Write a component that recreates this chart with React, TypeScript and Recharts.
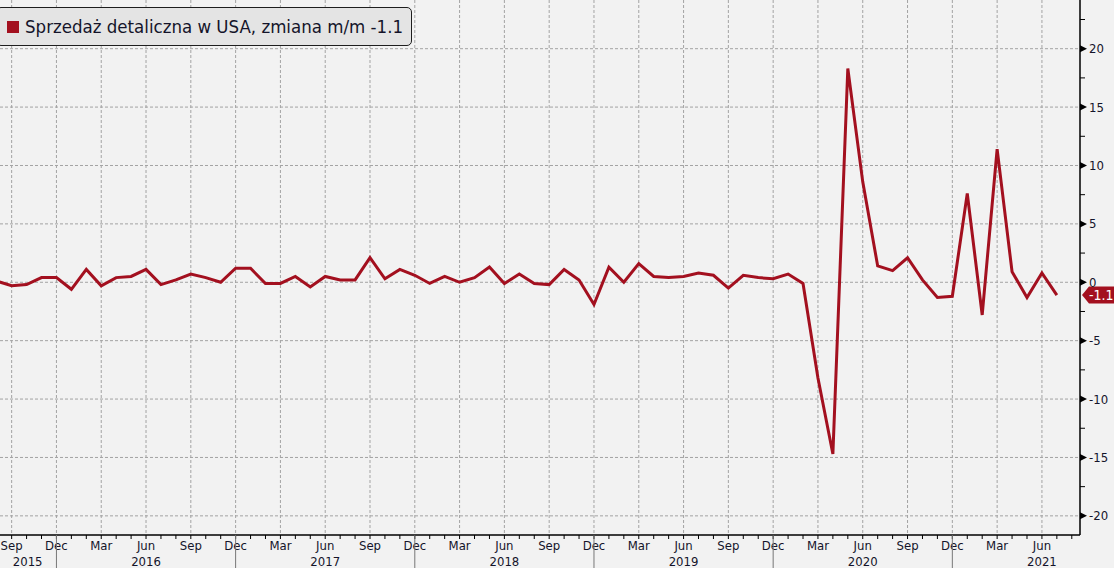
import React from 'react';
import {
  LineChart,
  Line,
  XAxis,
  YAxis,
  CartesianGrid,
  Legend,
  ReferenceDot,
} from 'recharts';

// zmiana m/m w %, od sie 2015 do lip 2021 (indeks 0 = wrz 2015)
const values = [
  0.1, -0.3, -0.2, 0.4, 0.4,
  -0.6, 1.1, -0.3, 0.4, 0.5, 1.1, -0.2, 0.2, 0.7, 0.4, 0.0, 1.2,
  1.2, -0.1, -0.1, 0.5, -0.4, 0.5, 0.2, 0.2, 2.1, 0.3, 1.1, 0.6,
  -0.1, 0.5, 0.0, 0.4, 1.3, -0.1, 0.7, -0.1, -0.2, 1.1, 0.2, -1.9,
  1.3, 0.0, 1.6, 0.5, 0.4, 0.5, 0.8, 0.6, -0.5, 0.6, 0.4, 0.3,
  0.7, -0.1, -8.2, -14.7, 18.3, 8.6, 1.4, 1.0, 2.1, 0.2, -1.3, -1.2,
  7.6, -2.8, 11.4, 0.9, -1.3, 0.8, -1.1,
];
const firstIndex = -1;
const startYear = 2015;
const startMonth = 8; // Sep
const monthNames = ['Jan', 'Feb', 'Mar', 'Apr', 'May', 'Jun', 'Jul', 'Aug', 'Sep', 'Oct', 'Nov', 'Dec'];
const quarterMonths = [2, 5, 8, 11];
const monthTicks = Array.from({ length: 72 }, (_, k) => k);
const quarterTicks = monthTicks.filter((k) => quarterMonths.includes((startMonth + k) % 12) && k < 70);
const yGrid = [-20, -15, -10, -5, 0, 5, 10, 15, 20];
const yTicks = [-20, -17.5, -15, -12.5, -10, -7.5, -5, -2.5, 0, 2.5, 5, 7.5, 10, 12.5, 15, 17.5, 20, 22.5];

const LINE_COLOR = '#a3101f';
const TEXT_COLOR = '#14142a';
const FONT = "'DejaVu Sans Condensed', 'DejaVu Sans', sans-serif";

const data = values.map((v, k) => ({ i: k + firstIndex, v }));
const last = values[values.length - 1];

const MonthTick = (props: any) => {
  const { x, y, payload } = props;
  const i = payload.value;
  const m = (startMonth + i) % 12;
  const year = startYear + Math.floor((startMonth + i) / 12);
  return (
    <g>
      <line x1={x} x2={x} y1={y} y2={y + 4} stroke="#000" strokeWidth={1} />
      {quarterMonths.includes(m) && (
        <text x={x} y={y + 15} textAnchor="middle" fontSize={13} fill={TEXT_COLOR} fontFamily={FONT}>
          {monthNames[m]}
        </text>
      )}
      {m === 5 && (
        <text x={x} y={y + 31} textAnchor="middle" fontSize={13} fill={TEXT_COLOR} fontFamily={FONT}>
          {year}
        </text>
      )}
      {i === 0 && (
        <text x={x + 16} y={y + 31} textAnchor="middle" fontSize={13} fill={TEXT_COLOR} fontFamily={FONT}>
          {year}
        </text>
      )}
      {m === 11 && <line x1={x} x2={x} y1={y} y2={y + 34} stroke="#777" strokeWidth={1} />}
    </g>
  );
};

const ValueTick = (props: any) => {
  const { x, y, payload } = props;
  const v = payload.value;
  if (v % 5 !== 0) {
    return <line x1={x} x2={x + 5} y1={y} y2={y} stroke="#000" strokeWidth={1} />;
  }
  return (
    <g>
      <path d={`M${x},${y - 3.5}L${x + 7},${y}L${x},${y + 3.5}Z`} fill="#000" />
      <text x={x + 9} y={y + 4.5} fontSize={13} fill={TEXT_COLOR} fontFamily={FONT}>
        {v}
      </text>
    </g>
  );
};

const LastTag = (props: any) => {
  const { cx, cy } = props;
  return (
    <g>
      <path
        d={`M${cx + 2},${cy} L${cx + 9},${cy - 8.5} H${cx + 40} V${cy + 8.5} H${cx + 9} Z`}
        fill={LINE_COLOR}
      />
      <text x={cx + 9} y={cy + 5} fontSize={14} fill="#fff" fontFamily={FONT}>
        {last}
      </text>
    </g>
  );
};

const LegendBox = () => (
  <div
    style={{
      display: 'flex',
      alignItems: 'center',
      height: 37,
      padding: '0 8px 0 10px',
      background: '#e4e4e4',
      border: '1.5px solid #1e1e1e',
      borderRadius: 5,
      fontFamily: FONT,
      fontSize: 18.5,
      color: TEXT_COLOR,
      whiteSpace: 'nowrap',
    }}
  >
    <span style={{ display: 'inline-block', width: 12, height: 12, background: LINE_COLOR, marginRight: 6 }} />
    Sprzedaż detaliczna w USA, zmiana m/m {last}
  </div>
);

export default function App() {
  return (
    <div style={{ position: 'absolute', left: 0, top: 0, width: 1114, height: 568, background: '#f2f2f2', overflow: 'hidden' }}>
      <LineChart width={1114} height={568} data={data} margin={{ top: 0, right: 0, left: 0, bottom: 0 }}>
        <CartesianGrid
          stroke="#a3a3a3"
          strokeDasharray="3 2"
          horizontalValues={yGrid}
          verticalValues={quarterTicks}
        />
        <XAxis
          dataKey="i"
          type="number"
          domain={[-0.78, 71.55]}
          allowDataOverflow
          ticks={monthTicks}
          interval={0}
          height={33}
          tickSize={0}
          tickMargin={0}
          tickLine={false}
          axisLine={{ stroke: '#000', strokeWidth: 1.5 }}
          tick={<MonthTick />}
        />
        <YAxis
          orientation="right"
          type="number"
          domain={[-21.64, 24.17]}
          allowDataOverflow
          ticks={yTicks}
          interval={0}
          width={34}
          tickSize={0}
          tickMargin={0}
          tickLine={false}
          axisLine={{ stroke: '#000', strokeWidth: 1.5 }}
          tick={<ValueTick />}
        />
        <Legend
          layout="vertical"
          align="center"
          verticalAlign="middle"
          wrapperStyle={{ top: 7, left: -4, width: 'auto' }}
          content={<LegendBox />}
        />
        <Line
          type="linear"
          dataKey="v"
          stroke={LINE_COLOR}
          strokeWidth={3}
          dot={false}
          isAnimationActive={false}
        />
        <ReferenceDot x={71.55} y={last} r={0} ifOverflow="visible" shape={<LastTag />} />
      </LineChart>
    </div>
  );
}
